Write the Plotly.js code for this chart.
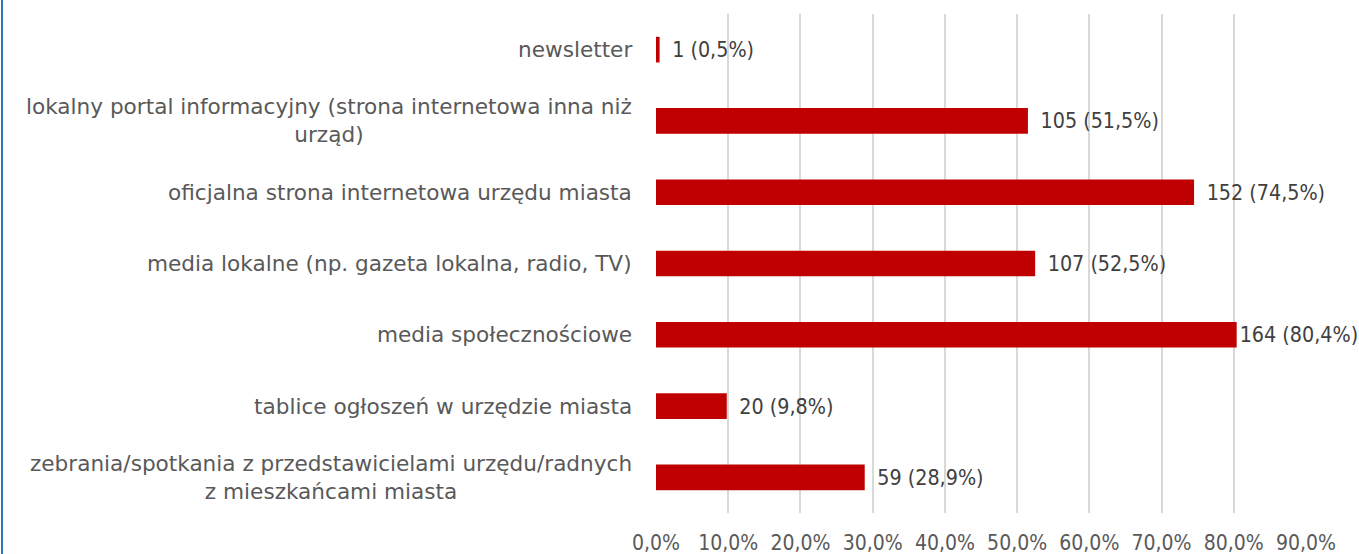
<!DOCTYPE html>
<html>
<head>
<meta charset="utf-8">
<script src="https://cdn.plot.ly/plotly-3.0.1.min.js"></script>
<style>html,body{margin:0;padding:0;background:#fff;}#chart{width:1359px;height:554px;}</style>
</head>
<body>
<div id="chart"></div>
<script>
const categories = [
  "newsletter",
  "lokalny portal informacyjny (strona internetowa inna niż<br>urząd)",
  "oficjalna strona internetowa urzędu miasta",
  "media lokalne (np. gazeta lokalna, radio, TV)",
  "media społecznościowe",
  "tablice ogłoszeń w urzędzie miasta",
  "zebrania/spotkania z przedstawicielami urzędu/radnych<br>z mieszkańcami miasta"
];
const counts = [1, 105, 152, 107, 164, 20, 59];
const percents = [0.5, 51.5, 74.5, 52.5, 80.4, 9.8, 28.9];
const percentLabels = ["0,5%", "51,5%", "74,5%", "52,5%", "80,4%", "9,8%", "28,9%"];
const xTickVals = [0, 10, 20, 30, 40, 50, 60, 70, 80, 90];
const xTickText = ["0,0%", "10,0%", "20,0%", "30,0%", "40,0%", "50,0%", "60,0%", "70,0%", "80,0%", "90,0%"];

const FONT = "DejaVu Sans, sans-serif";
const FONT_NARROW = "DejaVu Sans Condensed, DejaVu Sans, sans-serif";
const maxVal = Math.max(...percents);
const labels = counts.map((c, i) => c + " (" + percentLabels[i] + ")");
// gap before label, except the longest bar whose label is pushed against the bar (chart edge)
const templates = percents.map(v => v === maxVal ? "%{text}" : "\u2002%{text}");

const trace = {
  type: "bar",
  orientation: "h",
  y: categories,
  x: percents,
  text: labels,
  texttemplate: templates,
  textposition: "outside",
  cliponaxis: false,
  textfont: {family: FONT_NARROW, size: 21.3, color: "#404040"},
  marker: {color: "#C00000"},
  width: 0.36,
  hoverinfo: "none"
};

const annotations = categories.map(c => ({
  xref: "paper", yref: "y", x: -0.0335, y: c,
  xanchor: "right", yanchor: "middle", align: "center",
  text: c, showarrow: false,
  font: {family: FONT, size: 21.6, color: "#595959"}
}));

const layout = {
  width: 1359, height: 554,
  margin: {l: 656, r: 53, t: 14, b: 41},
  paper_bgcolor: "#fff", plot_bgcolor: "#fff",
  showlegend: false,
  font: {family: FONT, size: 21, color: "#595959"},
  xaxis: {
    range: [0, 90], tickmode: "array", tickvals: xTickVals, ticktext: xTickText,
    showgrid: true, gridcolor: "#D9D9D9", gridwidth: 2,
    zeroline: false, showline: false, ticks: "",
    ticklabelstandoff: 15,
    tickfont: {family: FONT_NARROW, size: 21, color: "#595959"}
  },
  yaxis: {
    autorange: "reversed", showticklabels: false, showgrid: false,
    zeroline: false, showline: false, ticks: ""
  },
  annotations: annotations,
  shapes: [{
    type: "line", xref: "paper", yref: "paper",
    x0: -654/650, x1: -654/650, y0: -41/499, y1: 1 + 14/499,
    line: {color: "#2E75B6", width: 2}
  }]
};

Plotly.newPlot("chart", [trace], layout, {displayModeBar: false, staticPlot: true});
</script>
</body>
</html>
